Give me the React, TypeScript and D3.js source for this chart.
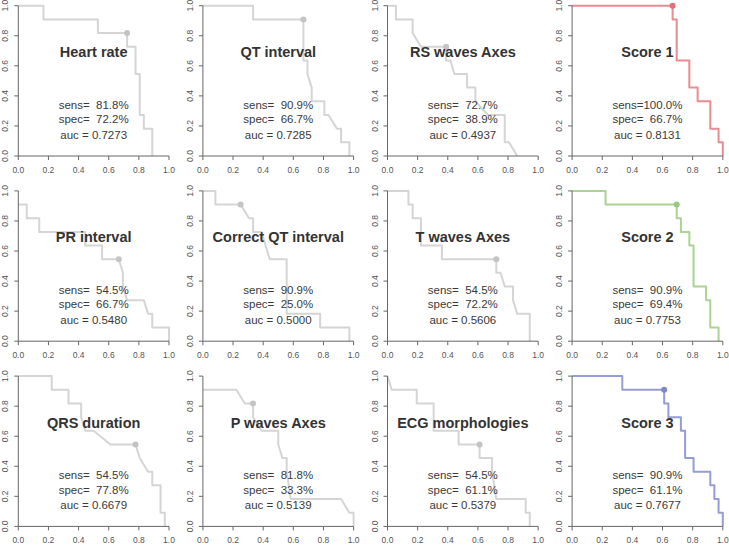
import React from "react";
import * as d3 from "d3";

type P = [number, number];

const titles = [
  "Heart rate", "QT interval", "RS waves Axes", "Score 1",
  "PR interval", "Correct QT interval", "T waves Axes", "Score 2",
  "QRS duration", "P waves Axes", "ECG morphologies", "Score 3",
];
const sensText = ["81.8", "90.9", "72.7", "100.0", "54.5", "90.9", "54.5", "90.9", "54.5", "81.8", "54.5", "90.9"];
const specText = ["72.2", "66.7", "38.9", "66.7", "66.7", "25.0", "72.2", "69.4", "77.8", "33.3", "61.1", "61.1"];
const aucText = ["0.7273", "0.7285", "0.4937", "0.8131", "0.5480", "0.5000", "0.5606", "0.7753", "0.6679", "0.5139", "0.5379", "0.7677"];
const curveColors = ["grey", "grey", "grey", "red", "grey", "grey", "grey", "green", "grey", "grey", "grey", "blue"];

const heartRate: P[] = [[0,1],[0.167,1],[0.167,0.909],[0.528,0.909],[0.528,0.818],[0.722,0.818],[0.722,0.727],[0.778,0.727],[0.778,0.545],[0.806,0.545],[0.806,0.273],[0.833,0.273],[0.833,0.182],[0.889,0.182],[0.889,0]];
const qtInterval: P[] = [[0,1],[0.333,1],[0.333,0.909],[0.667,0.909],[0.667,0.636],[0.694,0.636],[0.694,0.545],[0.722,0.455],[0.722,0.364],[0.806,0.364],[0.806,0.273],[0.833,0.273],[0.889,0.182],[0.917,0.182],[0.917,0.091],[0.972,0.091],[0.972,0]];
const rsWaves: P[] = [[0,1],[0.056,1],[0.056,0.909],[0.167,0.909],[0.167,0.818],[0.222,0.727],[0.389,0.727],[0.389,0.636],[0.417,0.636],[0.444,0.545],[0.528,0.545],[0.528,0.455],[0.583,0.455],[0.583,0.364],[0.667,0.273],[0.778,0.273],[0.778,0.091],[0.806,0.091],[0.861,0]];
const score1: P[] = [[0,1],[0.667,1],[0.667,0.909],[0.694,0.909],[0.694,0.636],[0.778,0.636],[0.778,0.455],[0.833,0.455],[0.833,0.364],[0.917,0.364],[0.917,0.182],[0.972,0.182],[0.972,0.091],[1,0.091],[1,0]];
const prInterval: P[] = [[0,0.909],[0.056,0.909],[0.056,0.818],[0.139,0.818],[0.139,0.727],[0.444,0.727],[0.444,0.636],[0.556,0.636],[0.556,0.545],[0.667,0.545],[0.694,0.455],[0.694,0.364],[0.722,0.273],[0.833,0.273],[0.861,0.182],[0.889,0.182],[0.889,0.091],[1,0.091],[1,0]];
const correctQt: P[] = [[0,1],[0.083,1],[0.083,0.909],[0.25,0.909],[0.306,0.818],[0.333,0.818],[0.333,0.727],[0.389,0.727],[0.444,0.545],[0.556,0.545],[0.556,0.182],[0.778,0.182],[0.778,0.091],[0.972,0.091],[0.972,0]];
const tWaves: P[] = [[0,1],[0.139,1],[0.139,0.909],[0.167,0.909],[0.167,0.818],[0.222,0.818],[0.222,0.636],[0.361,0.636],[0.361,0.545],[0.722,0.545],[0.722,0.455],[0.75,0.455],[0.778,0.364],[0.833,0.364],[0.833,0.273],[0.861,0.182],[0.944,0.182],[0.944,0]];
const score2: P[] = [[0,1],[0.222,1],[0.222,0.909],[0.694,0.909],[0.694,0.818],[0.722,0.818],[0.722,0.727],[0.778,0.727],[0.778,0.636],[0.806,0.636],[0.806,0.364],[0.889,0.364],[0.889,0.273],[0.917,0.273],[0.917,0.091],[0.972,0.091],[0.972,0]];
const qrsDuration: P[] = [[0,1],[0.222,1],[0.222,0.909],[0.333,0.909],[0.333,0.818],[0.417,0.818],[0.417,0.727],[0.444,0.636],[0.5,0.636],[0.611,0.545],[0.778,0.545],[0.806,0.455],[0.861,0.364],[0.889,0.364],[0.889,0.273],[0.944,0.273],[0.944,0.091],[0.972,0.091],[0.972,0]];
const pWaves: P[] = [[0,0.909],[0.222,0.909],[0.278,0.818],[0.333,0.818],[0.333,0.727],[0.389,0.636],[0.5,0.636],[0.5,0.545],[0.528,0.455],[0.556,0.455],[0.556,0.364],[0.583,0.182],[0.917,0.182],[0.972,0.091],[1,0.091],[1,0]];
const ecgMorph: P[] = [[0,1],[0.028,0.909],[0.194,0.909],[0.194,0.818],[0.306,0.818],[0.306,0.636],[0.472,0.636],[0.472,0.545],[0.611,0.545],[0.611,0.455],[0.694,0.455],[0.694,0.364],[0.722,0.182],[0.917,0.182],[0.917,0.091],[0.944,0.091],[0.944,0]];
const score3: P[] = [[0,1],[0.333,1],[0.333,0.909],[0.611,0.909],[0.611,0.818],[0.639,0.818],[0.639,0.727],[0.722,0.727],[0.722,0.636],[0.75,0.636],[0.75,0.455],[0.806,0.455],[0.806,0.364],[0.917,0.364],[0.917,0.273],[0.944,0.273],[0.944,0.182],[0.972,0.182],[0.972,0.091],[1,0.091],[1,0]];

const curves: P[][] = [heartRate, qtInterval, rsWaves, score1, prInterval, correctQt, tWaves, score2, qrsDuration, pWaves, ecgMorph, score3];
const cutPoints: P[] = [[0.722,0.818],[0.667,0.909],[0.389,0.727],[0.667,1],[0.667,0.545],[0.25,0.909],[0.722,0.545],[0.694,0.909],[0.778,0.545],[0.333,0.818],[0.611,0.545],[0.611,0.909]];

const axisTicks = [0, 0.2, 0.4, 0.6, 0.8, 1.0];

const lineColor: Record<string, string> = { grey: "#d5d5d5", red: "#ea8b91", green: "#abd393", blue: "#959dd2" };
const dotColor: Record<string, string> = { grey: "#c4c4c4", red: "#e0707a", green: "#98c97c", blue: "#7f89c6" };

const FONT = "'Liberation Sans', Arial, Helvetica, sans-serif";
const NB = "\u00a0";

function pad(v: string) {
  // a missing digit is padded with two spaces (same width as a digit)
  return v.length >= 5 ? v : NB + NB + v;
}

function Panel({ i }: { i: number }) {
  const col = i % 4;
  const row = Math.floor(i / 4);
  const left = 18.3 + col * 184.6;
  const top = 5.7 + row * 185.2;
  const w = 150.7;
  const h = 150.3;
  const x = d3.scaleLinear().domain([0, 1]).range([left, left + w]);
  const y = d3.scaleLinear().domain([0, 1]).range([top + h, top]);
  const line = d3.line<P>().x((d) => x(d[0])).y((d) => y(d[1]));
  const fmt = d3.format(".1f");
  const c = curveColors[i];
  return (
    <g>
      <path d={line(curves[i]) || ""} fill="none" stroke={lineColor[c]} strokeWidth={2} strokeLinejoin="round" />
      <circle cx={x(cutPoints[i][0])} cy={y(cutPoints[i][1])} r={3} fill={dotColor[c]} />
      <line x1={x(0)} x2={x(1)} y1={y(0)} y2={y(0)} stroke="#666" strokeWidth={1} />
      <line x1={x(0)} x2={x(0)} y1={y(0)} y2={y(1)} stroke="#666" strokeWidth={1} />
      {axisTicks.map((t) => (
        <g key={"x" + t}>
          <line x1={x(t)} x2={x(t)} y1={y(0)} y2={y(0) + 4} stroke="#666" />
          <text x={x(t)} y={y(0) + 14} fontSize={8.5} fill="#555" textAnchor="middle" dominantBaseline="central" fontFamily={FONT}>
            {fmt(t)}
          </text>
        </g>
      ))}
      {axisTicks.map((t) => (
        <g key={"y" + t}>
          <line x1={x(0)} x2={x(0) - 4} y1={y(t)} y2={y(t)} stroke="#666" />
          <text
            transform={`translate(${x(0) - 13},${y(t)}) rotate(-90)`}
            fontSize={8.5}
            fill="#555"
            textAnchor="middle"
            dominantBaseline="central"
            fontFamily={FONT}
          >
            {fmt(t)}
          </text>
        </g>
      ))}
      <text x={x(0.5)} y={y(0.69)} fontSize={14.5} fontWeight="bold" fill="#333" textAnchor="middle" dominantBaseline="central" fontFamily={FONT}>
        {titles[i]}
      </text>
      <g fontSize={11.5} fill="#3a3a3a" fontFamily={FONT} textAnchor="middle">
        <text x={x(0.5)} y={y(0.34)} dominantBaseline="central">{`sens=${pad(sensText[i])}%`}</text>
        <text x={x(0.5)} y={y(0.245)} dominantBaseline="central">{`spec=${pad(specText[i])}%`}</text>
        <text x={x(0.5)} y={y(0.14)} dominantBaseline="central">{`auc = ${aucText[i]}`}</text>
      </g>
    </g>
  );
}

export default function App() {
  return (
    <svg width={729} height={545} style={{ position: "absolute", left: 0, top: 0, background: "#fff" }}>
      <rect width={729} height={545} fill="#fff" />
      {titles.map((_, i) => (
        <Panel key={i} i={i} />
      ))}
    </svg>
  );
}
